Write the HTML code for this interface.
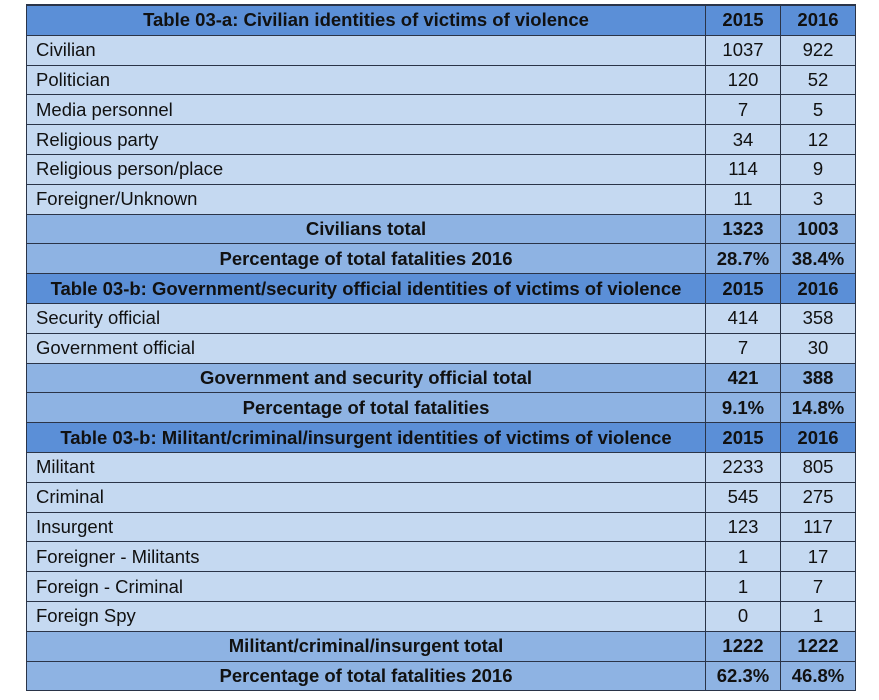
<!DOCTYPE html>
<html><head><style>
body{margin:0;width:879px;height:700px;background:#fff;overflow:hidden;font-family:"Liberation Sans",sans-serif;}
.r{position:absolute;left:27px;width:828px;height:29.8px;box-sizing:border-box;border-top:1.5px solid #2a3448;display:flex;}
.r div{box-sizing:border-box;height:100%;display:flex;align-items:center;font-size:18.5px;color:#111;}
.a{width:679px;padding-left:9px;border-right:1.5px solid #2a3448;}
.b{width:75px;justify-content:center;border-right:1.5px solid #2a3448;}
.c{width:74px;justify-content:center;}
.h{background:#5b8fd7;font-weight:bold;}
.l{background:#c5d9f1;}
.t{background:#8eb3e3;font-weight:bold;}
.h .a,.t .a{justify-content:center;padding-left:0;}
#frame{position:absolute;left:26px;top:4px;width:830px;height:687px;box-sizing:border-box;border:1.5px solid #2a3448;pointer-events:none;}
</style></head><body>
<div id="rows"></div>
<script>
const R=[
['h','Table 03-a: Civilian identities of victims of violence','2015','2016'],
['l','Civilian','1037','922'],['l','Politician','120','52'],['l','Media personnel','7','5'],
['l','Religious party','34','12'],['l','Religious person/place','114','9'],['l','Foreigner/Unknown','11','3'],
['t','Civilians total','1323','1003'],['t','Percentage of total fatalities 2016','28.7%','38.4%'],
['h','Table 03-b: Government/security official identities of victims of violence','2015','2016'],
['l','Security official','414','358'],['l','Government official','7','30'],
['t','Government and security official total','421','388'],['t','Percentage of total fatalities','9.1%','14.8%'],
['h','Table 03-b: Militant/criminal/insurgent identities of victims of violence','2015','2016'],
['l','Militant','2233','805'],['l','Criminal','545','275'],['l','Insurgent','123','117'],
['l','Foreigner - Militants','1','17'],['l','Foreign - Criminal','1','7'],['l','Foreign Spy','0','1'],
['t','Militant/criminal/insurgent total','1222','1222'],['t','Percentage of total fatalities 2016','62.3%','46.8%']];
let h='';R.forEach((r,i)=>{h+=`<div class="r ${r[0]}" style="top:${5+i*29.8}px"><div class="a">${r[1]}</div><div class="b">${r[2]}</div><div class="c">${r[3]}</div></div>`;});
document.getElementById('rows').innerHTML=h+'<div id="frame"></div>';
</script>
</body></html>
